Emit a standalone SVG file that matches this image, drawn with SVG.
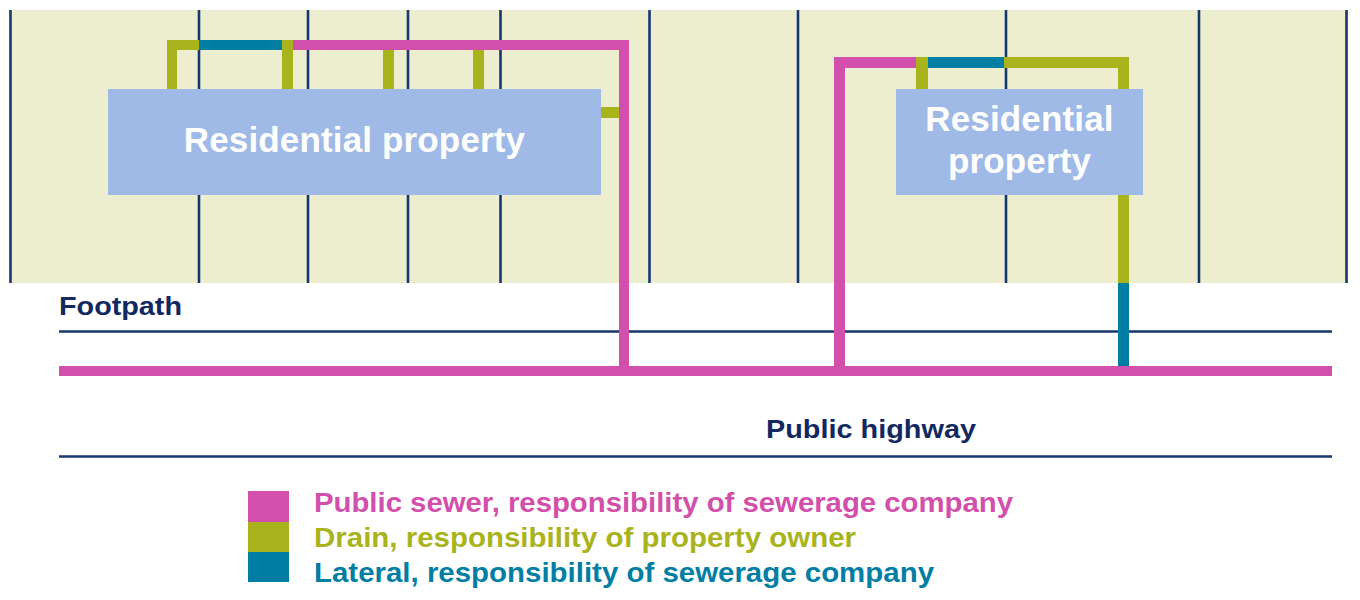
<svg xmlns="http://www.w3.org/2000/svg" width="1360" height="600" viewBox="0 0 1360 600">
<style>
text{font-family:"Liberation Sans",Arial,sans-serif}
.fence{stroke:#17376f;stroke-width:2.6;fill:none}
.road{stroke:#17376f;stroke-width:2.4;fill:none}
.prop{fill:#9fbae6}
.pt{fill:#fff;font-size:35px;font-weight:700;text-anchor:middle;letter-spacing:.15px}
.nv{fill:#12295f;font-size:26px;font-weight:700}
.lg{font-size:27px;font-weight:700}
.p{fill:#d24fab}.o{fill:#a9b31c}.t{fill:#007ea3}
</style>
<rect x="10" y="10" width="1338" height="273" fill="#edeed0"/>
<g id="boundaries" class="fence">
<path d="M10.500 10V283M199 10V283M308 10V283M408 10V283M500.500 10V283M649.500 10V283M798 10V283M1006 10V283M1199 10V283M1346.500 10V283"/>
</g>
<g id="road-lines" class="road"><path d="M59 331.500H1332M59 456.500H1332"/></g>
<g id="connectors">
<rect class="o" x="167" y="40" width="32" height="10"/>
<rect class="o" x="167" y="40" width="10" height="49"/>
<rect class="t" x="199" y="40" width="83" height="10"/>
<rect class="o" x="282" y="40" width="11" height="49"/>
<rect class="p" x="293" y="40" width="336" height="10"/>
<rect class="p" x="619" y="40" width="10" height="330"/>
<rect class="o" x="383" y="50" width="11" height="39"/>
<rect class="o" x="473" y="50" width="11" height="39"/>
<rect class="o" x="601" y="107" width="18" height="11"/>
<rect class="p" x="59" y="366" width="1273" height="10"/>
<rect class="p" x="834" y="57" width="11" height="310"/>
<rect class="p" x="834" y="57" width="82" height="11"/>
<rect class="o" x="916" y="57" width="12" height="32"/>
<rect class="t" x="928" y="57" width="76" height="11"/>
<rect class="o" x="1004" y="57" width="125" height="11"/>
<rect class="o" x="1118" y="57" width="11" height="226"/>
<rect class="t" x="1118" y="283" width="11" height="83"/>
</g>
<g id="property-1"><rect class="prop" x="108" y="89" width="493" height="106"/><text class="pt" x="354.500" y="152">Residential property</text></g>
<g id="property-2"><rect class="prop" x="896" y="89" width="247" height="106"/><text class="pt" x="1019.500" y="131">Residential</text><text class="pt" x="1019.500" y="173">property</text></g>
<g id="label-footpath"><text class="nv" x="59" y="315" textLength="123" lengthAdjust="spacingAndGlyphs">Footpath</text></g>
<g id="label-highway"><text class="nv" x="766" y="438" textLength="210" lengthAdjust="spacingAndGlyphs">Public highway</text></g>
<g id="legend">
<rect class="p" x="248" y="491" width="41" height="31"/>
<rect class="o" x="248" y="522" width="41" height="30"/>
<rect class="t" x="248" y="552" width="41" height="30"/>
<text class="lg p" x="314" y="512" textLength="699" lengthAdjust="spacingAndGlyphs">Public sewer, responsibility of sewerage company</text>
<text class="lg o" x="314" y="547" textLength="542" lengthAdjust="spacingAndGlyphs">Drain, responsibility of property owner</text>
<text class="lg t" x="314" y="582" textLength="620" lengthAdjust="spacingAndGlyphs">Lateral, responsibility of sewerage company</text>
</g>
</svg>
